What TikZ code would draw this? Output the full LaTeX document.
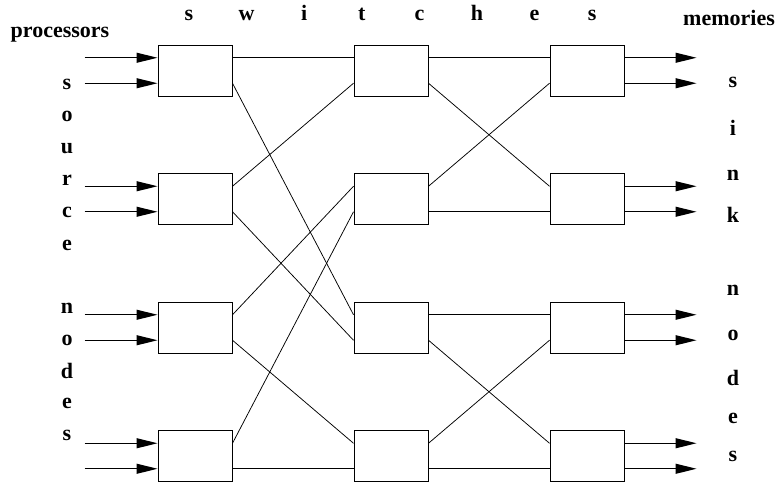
\documentclass[tikz,border=0pt]{standalone}
\usepackage{fontspec}
\setmainfont{Liberation Serif}
\usetikzlibrary{positioning, arrows.meta}

\begin{document}
\begin{tikzpicture}[x=1pt, y=-1pt, font=\bfseries\fontsize{22}{26}\selectfont,
       >={Triangle[length=21pt, width=10pt]},
       sw/.style={draw, line width=1pt, minimum width=74pt, minimum height=51pt,
                  inner sep=0pt},
       wire/.style={line width=0.75pt},
       feed/.style={->, line width=1.1pt},
       lbl/.style={anchor=base, inner sep=0pt}]
     \useasboundingbox (0,0) rectangle (778,482);
     % three stages of 2x2 switches
     \node[sw] (a1) at (195,70.5) {};
     \node[sw, below=76.5pt of a1] (a2) {};
     \node[sw, below=76.5pt of a2] (a3) {};
     \node[sw, below=76.5pt of a3] (a4) {};
     \node[sw, right=121pt of a1] (b1) {};
     \node[sw, below=76.5pt of b1] (b2) {};
     \node[sw, below=76.5pt of b2] (b3) {};
     \node[sw, below=76.5pt of b3] (b4) {};
     \node[sw, right=121pt of b1] (c1) {};
     \node[sw, below=76.5pt of c1] (c2) {};
     \node[sw, below=76.5pt of c2] (c3) {};
     \node[sw, below=76.5pt of c3] (c4) {};
     % processors in, memories out
     \foreach \r in {1,...,4} {
       \draw[feed] ([shift={(-73pt,12.75pt)}]a\r.west) -- ([yshift=12.75pt]a\r.west);
       \draw[feed] ([shift={(-73pt,-12.75pt)}]a\r.west) -- ([yshift=-12.75pt]a\r.west);
       \draw[feed] ([yshift=12.75pt]c\r.east) -- ([shift={(72pt,12.75pt)}]c\r.east);
       \draw[feed] ([yshift=-12.75pt]c\r.east) -- ([shift={(72pt,-12.75pt)}]c\r.east);
     }
     % first stage to second stage
     \draw[wire] ([yshift=12.75pt]a1.east) -- ([yshift=12.75pt]b1.west);
     \draw[wire] ([yshift=-12.75pt]a1.east) -- ([yshift=12.75pt]b3.west);
     \draw[wire] ([yshift=12.75pt]a2.east) -- ([yshift=-12.75pt]b1.west);
     \draw[wire] ([yshift=-12.75pt]a2.east) -- ([yshift=-12.75pt]b3.west);
     \draw[wire] ([yshift=12.75pt]a3.east) -- ([yshift=12.75pt]b2.west);
     \draw[wire] ([yshift=-12.75pt]a3.east) -- ([yshift=12.75pt]b4.west);
     \draw[wire] ([yshift=12.75pt]a4.east) -- ([yshift=-12.75pt]b2.west);
     \draw[wire] ([yshift=-12.75pt]a4.east) -- ([yshift=-12.75pt]b4.west);
     % second stage to third stage
     \draw[wire] ([yshift=12.75pt]b1.east) -- ([yshift=12.75pt]c1.west);
     \draw[wire] ([yshift=-12.75pt]b1.east) -- ([yshift=12.75pt]c2.west);
     \draw[wire] ([yshift=12.75pt]b2.east) -- ([yshift=-12.75pt]c1.west);
     \draw[wire] ([yshift=-12.75pt]b2.east) -- ([yshift=-12.75pt]c2.west);
     \draw[wire] ([yshift=12.75pt]b3.east) -- ([yshift=12.75pt]c3.west);
     \draw[wire] ([yshift=-12.75pt]b3.east) -- ([yshift=12.75pt]c4.west);
     \draw[wire] ([yshift=12.75pt]b4.east) -- ([yshift=-12.75pt]c3.west);
     \draw[wire] ([yshift=-12.75pt]b4.east) -- ([yshift=-12.75pt]c4.west);
     % labels
     \node[lbl] (proc) at (60,37) {processors};
     \node[lbl] (mem) at (729,25) {memories};
     \foreach \ch [count=\i] in {s,w,i,t,c,h,e,s}
       \node[lbl] (top\i) at (189+57.6*\i-57.6,20) {\ch};
     \foreach \ch/\yy [count=\i] in {s/89,o/121,u/153,r/185,c/217,e/250,
                                    n/313,o/345,d/378,e/408,s/440}
       \node[lbl] (src\i) at (67,\yy) {\ch};
     \foreach \ch/\yy [count=\i] in {s/87,i/135,n/180,k/222,
                                    n/295,o/340,d/385,e/423,s/461}
       \node[lbl] (snk\i) at (733,\yy) {\ch};
   \end{tikzpicture}
\end{document}
